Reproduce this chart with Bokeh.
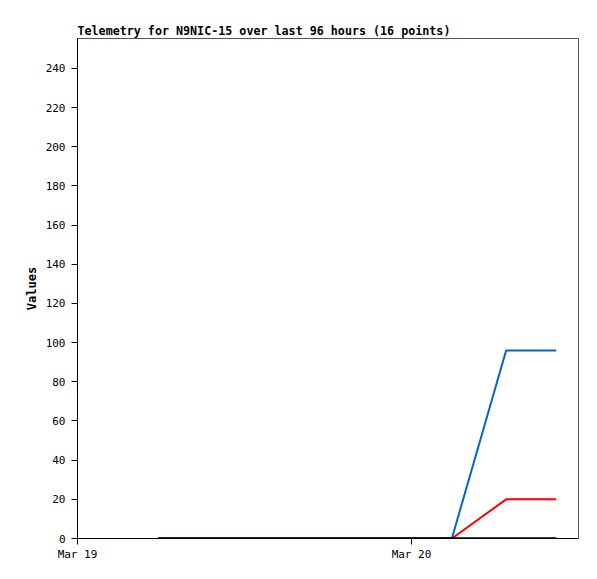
import datetime as dt
from bokeh.plotting import figure
from bokeh.models import FixedTicker, DatetimeTickFormatter, Range1d
from bokeh.embed import file_html
from bokeh.resources import INLINE

# Data (hours since Mar 19 00:00)
base = dt.datetime(2025, 3, 19)
hours = [5.8, 8.0, 10.5, 13.0, 15.5, 18.0, 20.0, 22.0, 24.0, 25.5, 26.9, 30.8, 31.8, 32.8, 33.6, 34.4]
series_blue = [0, 0, 0, 0, 0, 0, 0, 0, 0, 0, 0, 96, 96, 96, 96, 96]
series_red = [0, 0, 0, 0, 0, 0, 0, 0, 0, 0, 0, 20, 20, 20, 20, 20]
series_black = [0] * 16
y_ticks = list(range(0, 241, 20))
x_tick_days = [dt.datetime(2025, 3, 19), dt.datetime(2025, 3, 20)]

times = [base + dt.timedelta(hours=h) for h in hours]

FONT = "DejaVu Sans Mono"

p = figure(width=589, height=571, x_axis_type="datetime",
           output_backend="svg", toolbar_location=None,
           title="Telemetry for N9NIC-15 over last 96 hours (16 points)",
           min_border_left=77, min_border_right=11, min_border_top=38, min_border_bottom=33)

p.x_range = Range1d(base, base + dt.timedelta(hours=36))
p.y_range = Range1d(0, 255.3)

p.line(times, series_blue, line_color="#0066cc", line_width=2)
p.line(times, series_red, line_color="#ff0000", line_width=2)
p.line(times, series_black, line_color="#000000", line_width=2.5)

p.title.text_font = FONT
p.title.text_font_size = "11.7px"
p.title.text_font_style = "bold"
p.title.text_color = "black"
p.title.offset = 0
p.title.standoff = 1

p.xgrid.visible = False
p.ygrid.visible = False
p.outline_line_color = "#555555"
p.outline_line_width = 1
p.background_fill_color = "white"
p.border_fill_color = "white"

p.yaxis.ticker = FixedTicker(ticks=y_ticks)
p.xaxis.ticker = FixedTicker(ticks=[d.timestamp() * 1000 for d in x_tick_days])
p.xaxis.formatter = DatetimeTickFormatter(days="%b %d", hours="%b %d", months="%b %d")

for ax in (p.xaxis[0], p.yaxis[0]):
    ax.major_label_text_font = FONT
    ax.major_label_text_font_size = "11px"
    ax.major_label_text_color = "black"
    ax.axis_line_color = "black"
    ax.major_tick_line_color = "black"
    ax.minor_tick_line_color = None
    ax.major_tick_in = 0
    ax.major_tick_out = 6

p.xaxis.major_label_standoff = 3
p.yaxis.major_label_standoff = 6

p.yaxis.axis_label = "Values"
p.yaxis.axis_label_text_font = FONT
p.yaxis.axis_label_text_font_size = "12px"
p.yaxis.axis_label_text_font_style = "bold"
p.yaxis.axis_label_text_color = "black"
p.yaxis.axis_label_standoff = 4

open("out.html", "w").write(file_html(p, INLINE))
